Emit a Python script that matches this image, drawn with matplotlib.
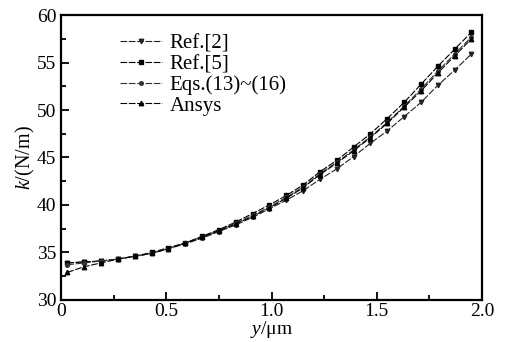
import matplotlib.pyplot as plt
from matplotlib.ticker import MultipleLocator

plt.rcParams["font.family"] = ["Liberation Serif", "DejaVu Serif"]
plt.rcParams["mathtext.fontset"] = "custom"
plt.rcParams["mathtext.it"] = "Liberation Serif:italic"
plt.rcParams["mathtext.rm"] = "Liberation Serif"

# displacement y (um)
y_um = [0.03, 0.11, 0.19, 0.27, 0.35, 0.43, 0.51, 0.59, 0.67, 0.75, 0.83, 0.91, 0.99,
        1.07, 1.15, 1.23, 1.31, 1.39, 1.47, 1.55, 1.63, 1.71, 1.79, 1.87, 1.95]

ref2 = [33.9, 34.0, 34.1, 34.3, 34.6, 34.9, 35.4, 35.9, 36.5, 37.2, 37.9, 38.7, 39.6,
        40.5, 41.5, 42.7, 43.8, 45.1, 46.5, 47.8, 49.3, 50.8, 52.6, 54.2, 55.9]
ref5 = [33.9, 34.0, 34.1, 34.3, 34.6, 35.0, 35.5, 36.0, 36.7, 37.4, 38.2, 39.1, 40.0,
        41.0, 42.1, 43.5, 44.7, 46.1, 47.5, 49.1, 50.8, 52.7, 54.6, 56.4, 58.2]
eqs = [33.7, 33.9, 34.1, 34.3, 34.6, 34.9, 35.4, 36.0, 36.6, 37.3, 38.1, 38.9, 39.8,
       40.8, 41.9, 43.3, 44.5, 45.8, 47.2, 48.7, 50.4, 52.2, 54.1, 55.9, 57.7]
ansys = [32.9, 33.5, 33.9, 34.3, 34.6, 34.9, 35.4, 36.0, 36.6, 37.3, 38.0, 38.8, 39.7,
         40.7, 41.8, 43.2, 44.4, 45.7, 47.1, 48.6, 50.3, 52.0, 53.9, 55.7, 57.5]

fig = plt.figure(figsize=(5.06, 3.42), dpi=100)
ax = fig.add_axes([0.1206, 0.123, 0.832, 0.833])

dash = (0, (6, 1.5))
ax.plot(y_um, ref2, color="#222222", ls=dash, lw=0.8, marker="v", ms=3.2, label="Ref.[2]")
ax.plot(y_um, ref5, color="black", ls=dash, lw=0.8, marker="s", ms=2.6, label="Ref.[5]")
ax.plot(y_um, eqs, color="#333333", ls=dash, lw=0.8, marker="o", ms=2.6, label="Eqs.(13)~(16)")
ax.plot(y_um, ansys, color="black", ls=dash, lw=0.8, marker="^", ms=3.2, label="Ansys")

ax.set_xlim(0, 2.0)
ax.set_ylim(30, 60)
ax.xaxis.set_major_locator(MultipleLocator(0.5))
ax.xaxis.set_minor_locator(MultipleLocator(0.25))
ax.yaxis.set_major_locator(MultipleLocator(5))
ax.yaxis.set_minor_locator(MultipleLocator(2.5))
ax.set_xticks([0, 0.5, 1.0, 1.5, 2.0])
ax.set_xticklabels(["0", "0.5", "1.0", "1.5", "2.0"])
ax.tick_params(which="both", direction="in", labelsize=14, width=1.3)
ax.tick_params(which="major", length=6)
ax.tick_params(which="minor", length=3.5)
ax.tick_params(axis="x", pad=2)
for s in ax.spines.values():
    s.set_linewidth(1.6)

ax.set_xlabel(r"$\mathit{y}$/μm", fontsize=14, labelpad=-0.5)
ax.set_ylabel(r"$\mathit{k}$/(N/m)", fontsize=14.5, labelpad=0)

ax.legend(loc="upper left", bbox_to_anchor=(0.115, 0.97), frameon=False, fontsize=15,
          handlelength=2.0, handletextpad=0.4, labelspacing=0.05, borderpad=0)

fig.savefig("out.png", dpi=100)
